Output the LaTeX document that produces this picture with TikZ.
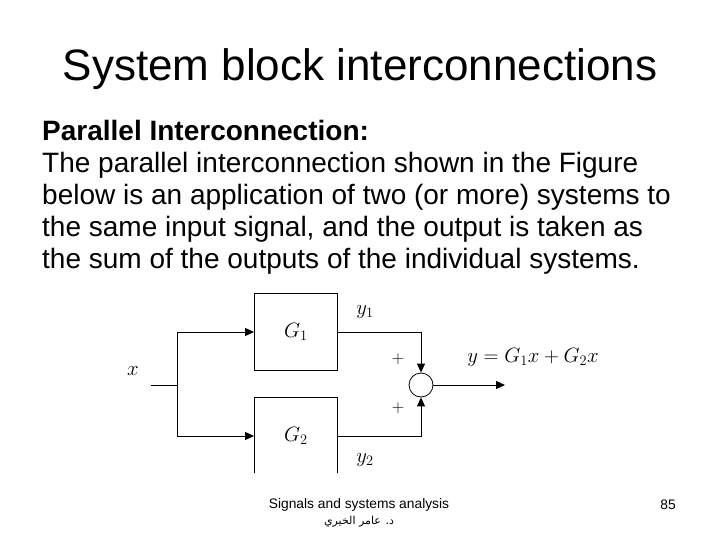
\documentclass[tikz,border=0pt]{standalone}
\usepackage{amsmath,amssymb}
\usepackage{fontspec}
\setmainfont{Liberation Sans}
\newfontfamily\arabicfont[Script=Arabic]{DejaVu Sans}
\TeXXeTstate=1
\usepackage{tikz}
\usetikzlibrary{positioning,arrows.meta,calc}

\begin{document}
\begin{tikzpicture}[x=1pt, y=-1pt,
    block/.style={draw, line width=0.9pt, minimum width=83pt, minimum height=77pt, inner sep=0pt, font=\fontsize{21}{24}\selectfont},
    sig/.style={line width=1pt, -{Triangle[length=9pt, width=8pt]}},
    lbl/.style={font=\fontsize{20}{22}\selectfont}]
  \useasboundingbox (0,0) rectangle (720,540);
  \node (title) at (360,69) {\fontsize{44}{50}\selectfont System block interconnections};
  \node[anchor=north west, inner sep=0pt, align=left, font=\fontsize{28}{32}\selectfont]
       (txt) at (42,120) {\textbf{Parallel Interconnection:}\\
       The parallel interconnection shown in the Figure\\
       below is an application of two (or more) systems to\\
       the same input signal, and the output is taken as\\
       the sum of the outputs of the individual systems.};
  % diagram
  \begin{scope}
    \clip (0,0) rectangle (720,472);
    \node[block] (g1) at (296,332) {$G_1$};
    \node[block] (g2) at (296,436) {$G_2$};
  \end{scope}
  \node[draw, circle, line width=0.8pt, minimum size=24pt, inner sep=0pt] (sum) at (421,385) {};
  \coordinate (xin) at (151,385);
  \coordinate (split) at (177,385);
  \coordinate (yout) at (505,385);
  \draw[line width=1pt] (xin) -- (split);
  \draw[sig] (split) |- (g1.west);
  \draw[sig] (split) |- (g2.west);
  \draw[sig] (g1.east) -| (sum.north);
  \draw[sig] (g2.east) -| (sum.south);
  \draw[sig] (sum.east) -- (yout);
  \node[lbl] (xl) at (133,371) {$x$};
  \node[lbl] (y1) at (365,312) {$y_1$};
  \node[lbl] (y2) at (365,460) {$y_2$};
  \node[font=\fontsize{16}{18}\selectfont] (p1) at (398,359) {$+$};
  \node[font=\fontsize{16}{18}\selectfont] (p2) at (398,408) {$+$};
  \node[font=\fontsize{21}{24}\selectfont] (yeq) at (533,357) {$y = G_1x + G_2x$};
  % footer
  \node[font=\fontsize{13.8}{15}\selectfont] (foot) at (359,505) {Signals and systems analysis};
  \node[font=\fontsize{11}{13}\arabicfont] (name) at (359,522) {\beginR د. عامر الخيري\endR};
  \node[font=\fontsize{13.8}{15}\selectfont] (page) at (668,505) {85};
\end{tikzpicture}
\end{document}
